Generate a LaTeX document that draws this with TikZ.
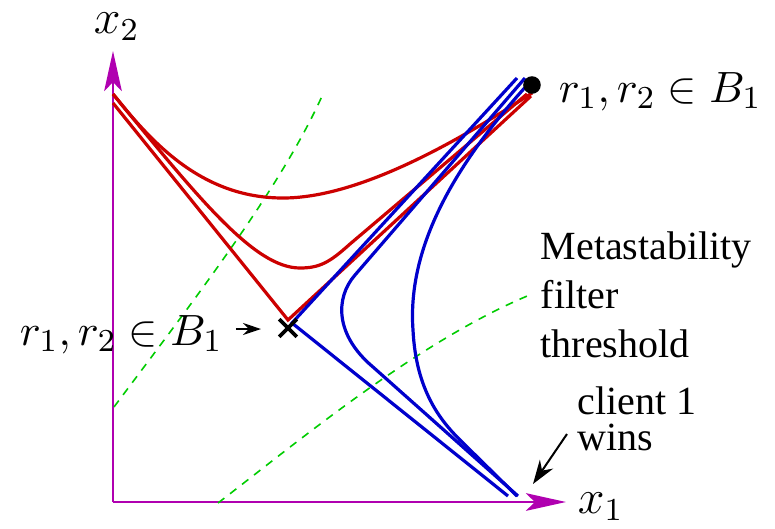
\documentclass[tikz,border=0pt]{standalone}
\usepackage{fontspec}
\setmainfont{Liberation Serif}
\usetikzlibrary{arrows.meta}
\definecolor{cred}{RGB}{204,0,0}
\definecolor{cblue}{RGB}{0,0,204}
\definecolor{cmag}{RGB}{176,0,176}
\definecolor{cgreen}{RGB}{0,204,0}
\tikzset{
  axis/.style={draw=cmag, line width=0.55pt, -{Stealth[length=10pt,width=4.4pt,inset=2.2pt]}},
  redc/.style={draw=cred, line width=0.8pt},
  bluec/.style={draw=cblue, line width=0.8pt},
  greenc/.style={draw=cgreen, line width=0.4pt, dash pattern=on 2pt off 1.8pt},
  mathlbl/.style={inner sep=0pt, anchor=base west, font=\fontsize{11.4}{14}\selectfont},
  txtlbl/.style={inner sep=0pt, anchor=base west, align=left},
  pointer/.style={draw=black, line width=0.5pt, -{Stealth[length=4.5pt,width=3pt]}}
}
\begin{document}
\begin{tikzpicture}[x=0.25pt,y=-0.25pt]
\useasboundingbox (0,0) rectangle (775,528);
% axes
\coordinate (O) at (113,502);
\coordinate (X2) at (113,51);
\coordinate (X1) at (566,502);
\draw[axis] (O) -- (X2);
\draw[axis] (O) -- (X1);
\node[mathlbl, font=\fontsize{12}{14}\selectfont] (x2lbl) at (93,33) {$x_2$};
\node[mathlbl, font=\fontsize{12}{14}\selectfont] (x1lbl) at (577,513) {$x_1$};
% green dashed thresholds
\draw[greenc] (114,407) .. controls (190,305) and (280,190) .. (323,94);
\draw[greenc] (218,503) .. controls (300,440) and (420,340) .. (532,294);
% red curves
\draw[redc] (113,103) -- (288,320) -- (531,96);
\draw[redc] (113,94) .. controls (200,200) and (255,268) .. (300,268)
   .. controls (320,268) and (330,262) .. (350,244) -- (527,94);
\draw[redc] (113,94) .. controls (150,140) and (200,198) .. (283,198)
   .. controls (360,198) and (460,140) .. (532,93);
% blue curves
\draw[bluec] (517,78) -- (292,323) -- (508,496);
\draw[bluec] (525,78) -- (355,275) .. controls (335,298) and (335,335) .. (373,367) -- (518,496);
\draw[bluec] (530,82) .. controls (440,180) and (408,260) .. (413,330)
   .. controls (416,390) and (440,420) .. (460,440) -- (517,496);
% markers
\node[circle, fill=black, inner sep=0pt, minimum size=4.4pt] (dot) at (532,85) {};
\node[inner sep=0pt, minimum size=4pt] (cross) at (288,328) {};
\draw[line width=0.9pt] (cross.north west) -- (cross.south east) (cross.north east) -- (cross.south west);
% labels
\node[mathlbl] (toplbl) at (558,102) {$r_1, r_2 \in B_1$};
\node[mathlbl] (leftlbl) at (19,345) {$r_1, r_2 \in B_1$};
\coordinate (la) at (236,329);
\coordinate (lb) at (261,329);
\draw[pointer] (la) -- (lb);
\node[txtlbl, font=\fontsize{10}{12.2}\selectfont] (meta) at (540,357) {Metastability\\filter\\threshold};
\node[txtlbl, font=\fontsize{10}{8.8}\selectfont] (client) at (577,450) {client 1\\wins};
\coordinate (ca) at (567,434);
\coordinate (cb) at (533,484);
\draw[draw=black, line width=0.5pt, -{Stealth[length=6pt,width=4pt]}] (ca) -- (cb);
\end{tikzpicture}
\end{document}
